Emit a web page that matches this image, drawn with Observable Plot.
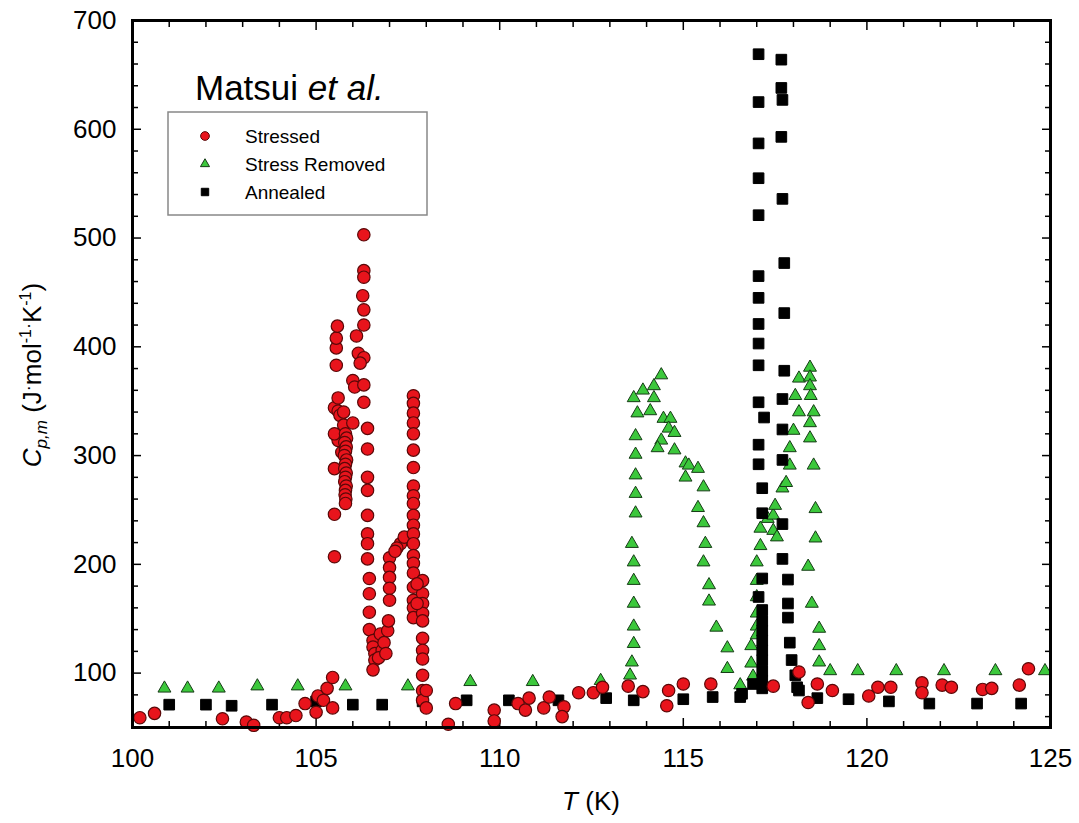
<!DOCTYPE html>
<html><head><meta charset="utf-8">
<script src="https://cdn.jsdelivr.net/npm/d3@7"></script>
<script src="https://cdn.jsdelivr.net/npm/@observablehq/plot@0.6"></script>
<style>body{margin:0;background:#fff;}</style>
</head><body><div id="chart"></div>
<script>
// Data: [T (K), Cp,m (J mol-1 K-1)]
const stressed = [
  [100.2,59],[100.6,63],[102.45,58],[103.1,55],[103.3,52],[104.0,59],[104.2,59],[104.45,61],[104.7,72],[105.0,64],[105.05,79],[105.3,86],[105.2,75],[105.45,68],[105.45,96],
  [105.5,207],[105.5,246],[105.5,288],[105.5,344],[105.55,383],[105.55,399],[105.55,408],[105.58,419],[105.6,353],[105.6,341],[105.65,337],[105.75,340],[105.6,314],[105.7,303],[105.5,320],[105.75,328],[105.8,317],[105.8,307],
  [105.8,320],[105.83,316],[105.78,312],[105.82,308],[105.8,304],[105.77,300],[105.83,296],[105.8,292],[105.78,288],[105.82,284],[105.8,280],[105.78,276],[105.82,272],[105.8,268],[105.79,264],[105.81,260],[105.8,256],
  [106.0,330],[106.0,369],[106.05,363],[106.1,410],
  [106.3,503],[106.3,470],[106.3,464],[106.27,447],[106.3,434],[106.3,420],[106.15,394],[106.3,390],[106.2,385],[106.3,365],[106.3,349],
  [106.4,325],[106.4,306],[106.4,280],[106.4,268],[106.4,245],[106.4,228],[106.4,219],[106.4,205],[106.45,187],[106.45,173],[106.45,156],[106.45,140],
  [106.55,130],[106.55,124],[106.6,118],[106.6,112],[106.55,103],[106.75,136],[106.95,139],[106.97,148],[106.8,121],[106.7,114],[106.85,128],[106.9,118],
  [107.0,206],[107.0,197],[107.0,188],[107.0,178],[107.0,167],[107.3,219],[107.2,215],[107.4,225],[107.15,212],
  [107.65,355],[107.65,348],[107.65,339],[107.65,330],[107.65,320],[107.65,305],[107.65,289],[107.65,272],[107.65,263],[107.65,256],[107.65,245],[107.65,236],[107.65,228],[107.65,219],[107.65,208],[107.65,201],[107.65,192],[107.65,179],[107.65,167],[107.65,160],[107.65,151],
  [107.9,185],[107.9,173],[107.9,164],[107.9,155],[107.9,148],[107.9,132],[107.9,121],[107.9,113],[107.9,98],[107.9,84],[107.9,75],[108.0,68],[107.75,182],[107.75,164],[108.0,84],
  [108.6,53],[108.8,72],[109.85,66],[109.85,56],[110.5,72],[110.7,66],[110.8,77],[111.2,68],[111.35,78],[111.75,69],[111.7,60],[112.15,82],[112.55,82],[112.8,87],[113.5,88],[113.9,83],[114.6,84],[114.55,70],[115.0,90],[115.75,90],[117.45,88],[118.15,101],[118.65,90],[118.4,73],[119.06,84],[120.05,79],[120.3,87],[120.65,87],[121.5,91],[121.5,82],[122.05,89],[122.3,87],[123.15,85],[123.4,86],[124.15,89],[124.4,104]
];
const stressRemoved = [
  [100.87,86],[101.5,86],[102.35,86],[103.4,88],[104.5,88],[105.8,88],[107.5,88],[109.2,92],[110.9,92],[112.75,93],[119.0,102],[119.75,102],[120.8,102],[122.1,102],[123.5,102],[124.85,102],
  [113.65,353],[113.75,339],[113.7,318],[113.7,301],[113.7,282],[113.7,265],[113.7,247],[113.6,219],[113.65,202],[113.65,185],[113.65,164],[113.65,143],[113.65,127],[113.6,110],[113.55,98],
  [113.9,360],[114.2,364],[114.4,374],[114.2,353],[114.1,341],[114.46,334],[114.65,334],[114.6,325],[114.76,321],[114.4,314],[114.3,307],[114.76,305],[115.06,293],[115.15,291],[115.06,280],[115.4,288],[115.55,271],[115.4,252],[115.55,238],[115.6,219],[115.55,202],[115.7,181],[115.7,166],[115.9,142],[116.2,123],[116.2,104],[116.55,89],
  [116.85,125],[116.85,109],[116.9,97],[117.0,155],[117.0,202],[117.1,217],[117.1,233],[117.3,242],[117.45,245],[117.5,254],[117.45,231],[117.55,225],[117.7,270],[117.8,275],
  [117.0,185],[117.0,170],[117.0,143],[117.0,135],
  [117.9,307],[117.9,291],[118.05,355],[118.15,371],[118.0,323],[118.15,340],[118.45,381],[118.45,372],[118.45,364],[118.47,355],[118.55,340],[118.45,330],[118.45,316],[118.55,291],[118.6,251],[118.6,224],[118.4,198],[118.5,164],[118.7,141],[118.7,125],[118.7,110]
];
const annealed = [
  [101.0,71],[102.0,71],[102.7,70],[103.8,71],[105.0,74],[106.0,71],[106.8,71],[107.9,74],[109.1,75],[110.25,75],[111.6,75],[112.9,77],[113.65,75],[115.0,76],[115.8,78],[116.55,78],[116.6,81],[118.65,77],[119.5,76],[120.6,74],[121.7,72],[123.0,72],[124.2,72],
  [117.05,669],[117.05,625],[117.05,587],[117.05,555],[117.05,521],[117.05,465],[117.05,445],[117.05,421],[117.05,403],[117.05,383],[117.05,349],[117.2,335],[117.05,310],[117.05,292],[117.15,270],[117.15,247],[117.15,187],[117.05,170],[117.15,158],[117.15,148],[117.15,139],[117.15,130],[117.15,121],[117.15,112],[117.15,102],[117.15,93],[117.15,86],[116.9,90],
  [117.67,664],[117.67,638],[117.7,627],[117.67,593],[117.7,536],[117.75,477],[117.75,431],[117.75,378],[117.7,352],[117.7,324],[117.7,296],[117.7,237],[117.7,205],[117.85,186],[117.85,164],[117.85,151],[117.9,128],[117.95,112],[118.05,98],[118.1,87],[118.15,84]
];
const xMajor = [100,105,110,115,120,125];
const xMinor = d3.range(101,125).filter(v => v % 5 !== 0);
const yMajor = [100,200,300,400,500,600,700];
const yMinor = d3.range(60,700,20).filter(v => v % 100 !== 0);
const seriesNames = ["Stressed","Stress Removed","Annealed"];

const RED = "#e8141c", RED_S = "#5a0808";
const GREEN = "#3cc83c", GREEN_S = "#163c16";

const blank = () => "";
const plot = Plot.plot({
  width: 1079, height: 823,
  marginLeft: 132, marginRight: 29, marginTop: 20, marginBottom: 96,
  style: {fontFamily: "'Liberation Sans', Arial, sans-serif", fontSize: "26px", background: "white", color: "black"},
  x: {domain: [100,125]},
  y: {domain: [50,700]},
  marks: [
    Plot.axisX(xMajor, {anchor: "bottom", tickSize: -9, tickPadding: 30, label: null, tickFormat: d => String(d), strokeWidth: 1.5}),
    Plot.axisX(xMinor, {anchor: "bottom", tickSize: -6, tickFormat: blank, label: null, strokeWidth: 1.5}),
    Plot.axisX(xMajor, {anchor: "top", tickSize: -9, tickFormat: blank, label: null, strokeWidth: 1.5}),
    Plot.axisX(xMinor, {anchor: "top", tickSize: -6, tickFormat: blank, label: null, strokeWidth: 1.5}),
    Plot.axisY(yMajor, {anchor: "left", tickSize: -9, tickPadding: 25, label: null, tickFormat: d => String(d), strokeWidth: 1.5}),
    Plot.axisY(yMinor, {anchor: "left", tickSize: -6, tickFormat: blank, label: null, strokeWidth: 1.5}),
    Plot.axisY(yMajor, {anchor: "right", tickSize: -9, tickFormat: blank, label: null, strokeWidth: 1.5}),
    Plot.axisY(yMinor, {anchor: "right", tickSize: -6, tickFormat: blank, label: null, strokeWidth: 1.5}),
    Plot.dot(stressRemoved, {x: d => d[0], y: d => d[1], symbol: "triangle", r: 4.8, fill: GREEN, stroke: GREEN_S, strokeWidth: 1}),
    Plot.dot(annealed, {x: d => d[0], y: d => d[1], symbol: "square", r: 6.0, fill: "black", stroke: "black", strokeWidth: 1}),
    Plot.dot(stressed, {x: d => d[0], y: d => d[1], symbol: "circle", r: 6.2, fill: RED, stroke: RED_S, strokeWidth: 1.2}),
    Plot.frame({stroke: "black", strokeWidth: 3})
  ]
});

const svg = d3.select(plot);
const ff = "'Liberation Sans', Arial, sans-serif";
// x-axis title
const xt = svg.append("text").attr("x", 591).attr("y", 810).attr("text-anchor", "middle")
  .attr("font-family", ff).attr("font-size", 26).attr("fill", "black");
xt.append("tspan").attr("font-style", "italic").text("T");
xt.append("tspan").text(" (K)");
// y-axis title
const yt = svg.append("text").attr("transform", "translate(41,375) rotate(-90)").attr("text-anchor", "middle")
  .attr("font-family", ff).attr("font-size", 26).attr("fill", "black");
yt.append("tspan").attr("font-style", "italic").text("C");
yt.append("tspan").attr("font-style", "italic").attr("font-size", 17).attr("dy", 6).text("p,m");
yt.append("tspan").attr("dy", -6).text(" (J");
yt.append("tspan").attr("dy", -7).attr("font-size", 18).text("·");
yt.append("tspan").attr("dy", 7).text("mol");
yt.append("tspan").attr("dy", -10).attr("font-size", 16).text("-1");
yt.append("tspan").attr("dy", 3).attr("font-size", 18).text("·");
yt.append("tspan").attr("dy", 7).text("K");
yt.append("tspan").attr("dy", -10).attr("font-size", 16).text("-1");
yt.append("tspan").attr("dy", 10).text(")");
// annotation title
const tt = svg.append("text").attr("x", 195).attr("y", 100).attr("text-anchor", "start")
  .attr("font-family", ff).attr("font-size", 35).attr("fill", "black");
tt.append("tspan").text("Matsui ");
tt.append("tspan").attr("font-style", "italic").text("et al.");
// legend
const lg = svg.append("g").attr("text-anchor", "start");
lg.append("rect").attr("x", 168).attr("y", 112).attr("width", 259).attr("height", 103)
  .attr("fill", "white").attr("stroke", "#888").attr("stroke-width", 1.5);
const legendSym = [
  {sym: d3.symbolCircle, size: 60, fill: RED, stroke: RED_S},
  {sym: d3.symbolTriangle, size: 36, fill: GREEN, stroke: GREEN_S},
  {sym: d3.symbolSquare, size: 55, fill: "black", stroke: "black"}
];
seriesNames.forEach((name, i) => {
  const cy = 136 + i * 28;
  lg.append("path").attr("d", d3.symbol(legendSym[i].sym, legendSym[i].size)())
    .attr("transform", `translate(205,${cy})`).attr("fill", legendSym[i].fill).attr("stroke", legendSym[i].stroke);
  lg.append("text").attr("x", 245).attr("y", cy + 7).attr("text-anchor", "start")
    .attr("font-family", ff).attr("font-size", 19).attr("fill", "black").text(name);
});

document.getElementById("chart").appendChild(plot);
</script>
</body></html>
